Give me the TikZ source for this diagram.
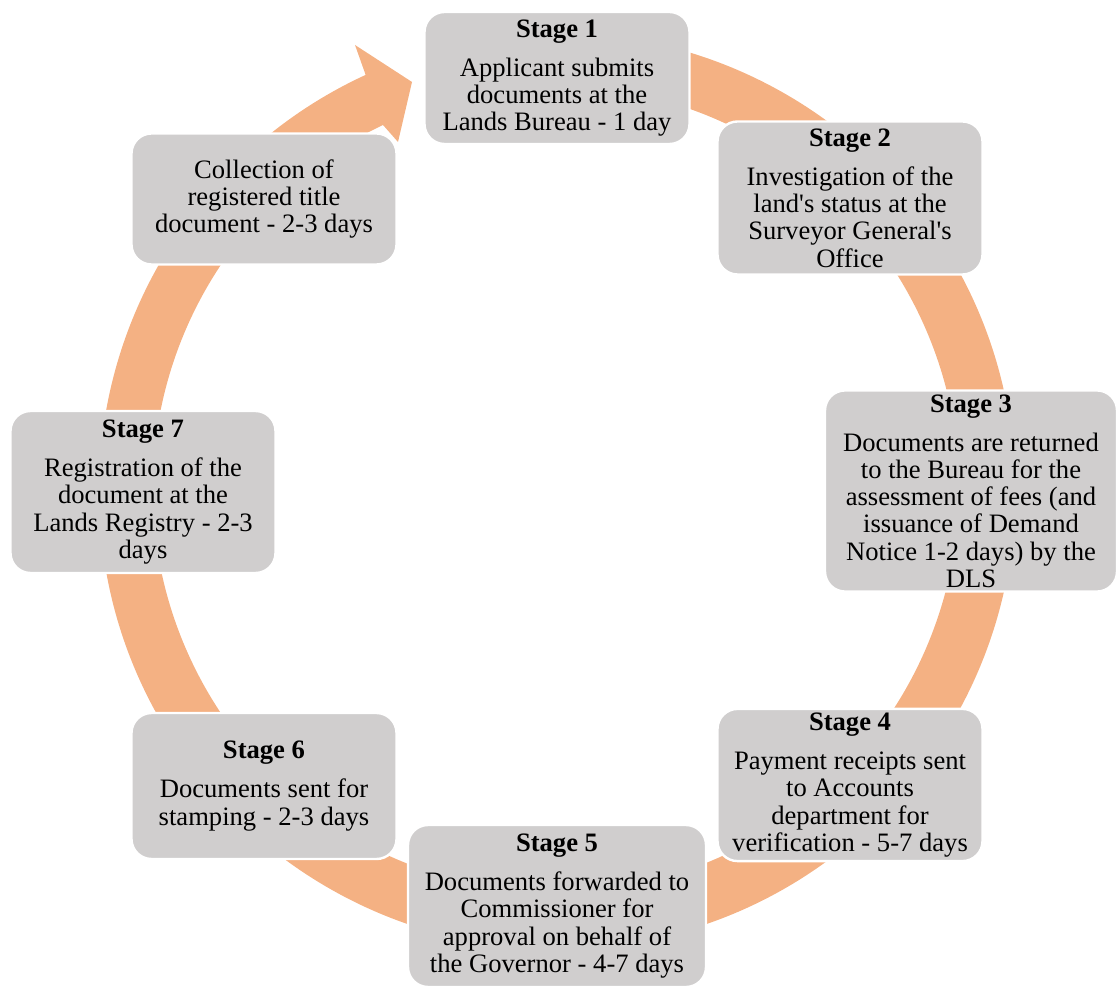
\documentclass[tikz,border=0pt]{standalone}
\usepackage{fontspec}
\setmainfont{Liberation Serif}[Ligatures=TeXOff]
\definecolor{ringorange}{RGB}{244,177,131}
\definecolor{boxgray}{RGB}{208,206,206}
\begin{document}
\begin{tikzpicture}[x=0.5pt,y=0.5pt,
  stagebox/.style={fill=boxgray, draw=white, line width=1.2pt,
    rounded corners=10pt, inner sep=2pt, align=center,
    font=\fontsize{13.3}{13.6}\selectfont},
]
\useasboundingbox (0,0) rectangle (1117,985);

% circular arrow running clockwise behind the stages
\begin{scope}[shift={(557,494)}]
  \fill[ringorange] (96:229pt)
    arc[start angle=96, end angle=-245.3, radius=229pt]
    -- (-202,446) -- (-145,409) -- (-159,349) -- (-174,366)
    arc[start angle=-244.6, end angle=96, radius=201.5pt] -- cycle;
\end{scope}

% stages
\node[stagebox, minimum width=132.5pt, minimum height=66pt] (s1) at (557,907)
  {\textbf{Stage 1}\\[6pt]Applicant submits\\documents at the\\Lands Bureau - 1 day};
\node[stagebox, minimum width=132.5pt, minimum height=76.5pt] (s2) at (850,787)
  {\textbf{Stage 2}\\[6pt]Investigation of the\\land's status at the\\Surveyor General's\\Office};
\node[stagebox, minimum width=146pt, minimum height=99pt] (s3) at (971,494)
  {\textbf{Stage 3}\\[6pt]Documents are returned\\to the Bureau for the\\assessment of fees (and\\issuance of Demand\\Notice 1-2 days) by the\\DLS};
\node[stagebox, minimum width=132.5pt, minimum height=74pt] (s4) at (850,200)
  {\textbf{Stage 4}\\[6pt]Payment receipts sent\\to Accounts\\department for\\verification - 5-7 days};
\node[stagebox, minimum width=149pt, minimum height=81pt] (s5) at (557,79)
  {\textbf{Stage 5}\\[6pt]Documents forwarded to\\Commissioner for\\approval on behalf of\\the Governor - 4-7 days};
\node[stagebox, minimum width=132.5pt, minimum height=73pt] (s6) at (264,199)
  {\textbf{Stage 6}\\[6pt]Documents sent for\\stamping - 2-3 days};
\node[stagebox, minimum width=132.5pt, minimum height=81pt] (s7) at (143,493)
  {\textbf{Stage 7}\\[6pt]Registration of the\\document at the\\Lands Registry - 2-3\\days};
\node[stagebox, minimum width=132.5pt, minimum height=65.5pt] (s8) at (264,786)
  {Collection of\\registered title\\document - 2-3 days};
\end{tikzpicture}
\end{document}
